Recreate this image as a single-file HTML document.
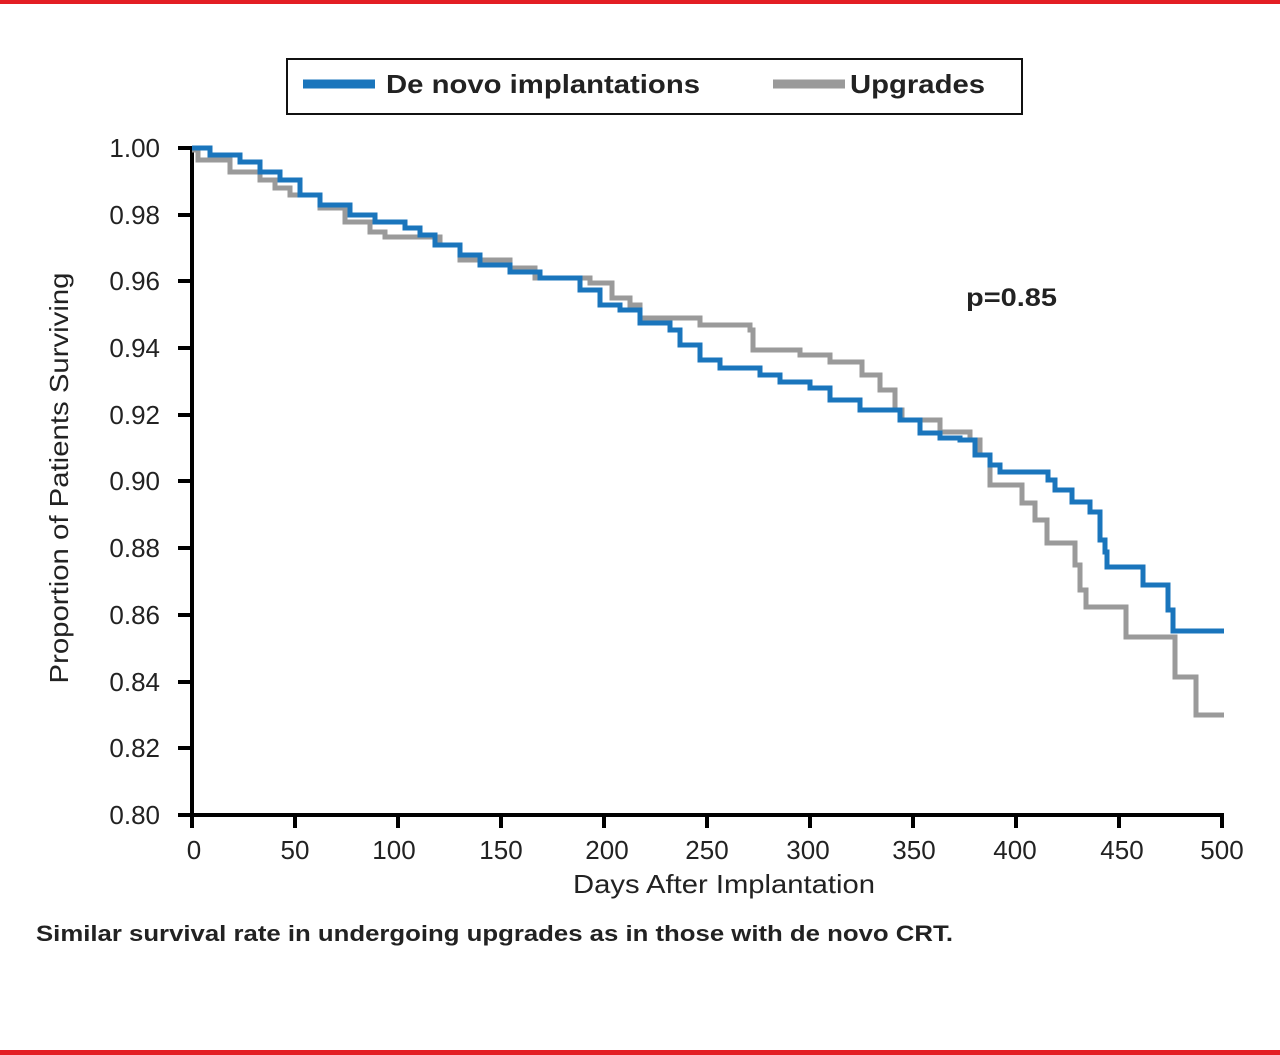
<!DOCTYPE html>
<html><head><style>body{margin:0;background:#fff}svg{display:block}</style></head><body>
<svg width="1280" height="1055" viewBox="0 0 1280 1055" xmlns="http://www.w3.org/2000/svg" font-family="Liberation Sans, Arial, sans-serif">
<rect x="0" y="0" width="1280" height="4" fill="#e31e24"/>
<rect x="0" y="1050" width="1280" height="5" fill="#e31e24"/>
<rect x="287" y="59" width="735" height="55" fill="none" stroke="#111" stroke-width="2"/>
<line x1="303" y1="84" x2="375" y2="84" stroke="#1a75bc" stroke-width="9"/>
<text x="386" y="93" font-size="26" font-weight="bold" fill="#222" textLength="314" lengthAdjust="spacingAndGlyphs">De novo implantations</text>
<line x1="773" y1="84" x2="845" y2="84" stroke="#9a9a9a" stroke-width="9"/>
<text x="850" y="93" font-size="26" font-weight="bold" fill="#222" textLength="135" lengthAdjust="spacingAndGlyphs">Upgrades</text>
<g font-size="26" fill="#222" text-anchor="end">
<text x="160" y="157">1.00</text><text x="160" y="224">0.98</text><text x="160" y="290">0.96</text><text x="160" y="357">0.94</text><text x="160" y="424">0.92</text><text x="160" y="490">0.90</text><text x="160" y="557">0.88</text><text x="160" y="624">0.86</text><text x="160" y="691">0.84</text><text x="160" y="757">0.82</text><text x="160" y="824">0.80</text>
</g>
<g stroke="#000" stroke-width="4">
<line x1="192" y1="146" x2="192" y2="817"/>
<line x1="178" y1="815" x2="1224" y2="815"/>
<path d="M178 148H192M178 215H192M178 281H192M178 348H192M178 415H192M178 481H192M178 548H192M178 615H192M178 682H192M178 748H192"/>
<path d="M192 815V828M295 815V828M398 815V828M501 815V828M604 815V828M707 815V828M810 815V828M913 815V828M1016 815V828M1119 815V828M1222 815V828"/>
</g>
<g font-size="26" fill="#222" text-anchor="middle">
<text x="194" y="859">0</text><text x="295" y="859">50</text><text x="394" y="859">100</text><text x="501" y="859">150</text><text x="607" y="859">200</text><text x="707" y="859">250</text><text x="808" y="859">300</text><text x="914" y="859">350</text><text x="1015" y="859">400</text><text x="1122" y="859">450</text><text x="1222" y="859">500</text>
<text x="724" y="893" textLength="302" lengthAdjust="spacingAndGlyphs">Days After Implantation</text>
</g>
<text transform="translate(68,478) rotate(-90)" font-size="26" fill="#222" text-anchor="middle" textLength="411" lengthAdjust="spacingAndGlyphs">Proportion of Patients Surviving</text>
<text x="966" y="306" font-size="25" font-weight="bold" fill="#222" textLength="91" lengthAdjust="spacingAndGlyphs">p=0.85</text>
<g fill="none" stroke-width="5">
<path stroke="#9a9a9a" d="M192 150H198V160H230V172H260V180H275V188H290V195H320V208H345V222H370V232H385V237H440V245H460V260H510V268H535V278H590V283H612V298H630V305H640V318H700V325H750V330H753V350H800V355H830V362H862V375H880V390H895V410H902V420H940V432H970V440H980V455H990V485H1022V503H1035V520H1047V543H1075V565H1080V590H1086V607H1126V637H1175V677H1196V715H1224"/>
<path stroke="#1a75bc" d="M192 148H210V155H240V162H260V172H280V180H300V195H320V205H350V215H375V222H405V228H420V235H435V245H460V255H480V265H510V272H540V278H580V290H600V305H620V310H640V323H670V330H680V345H700V360H720V368H760V375H780V382H810V388H830V400H860V410H900V420H920V433H940V438H960V440H975V455H990V465H1000V472H1048V480H1055V490H1072V502H1090V512H1100V540H1105V552H1107V567H1143V585H1168V610H1173V631H1224"/>
</g>
<text x="36" y="941" font-size="22" font-weight="bold" fill="#222" textLength="917" lengthAdjust="spacingAndGlyphs">Similar survival rate in undergoing upgrades as in those with de novo CRT.</text>
</svg>
</body></html>
